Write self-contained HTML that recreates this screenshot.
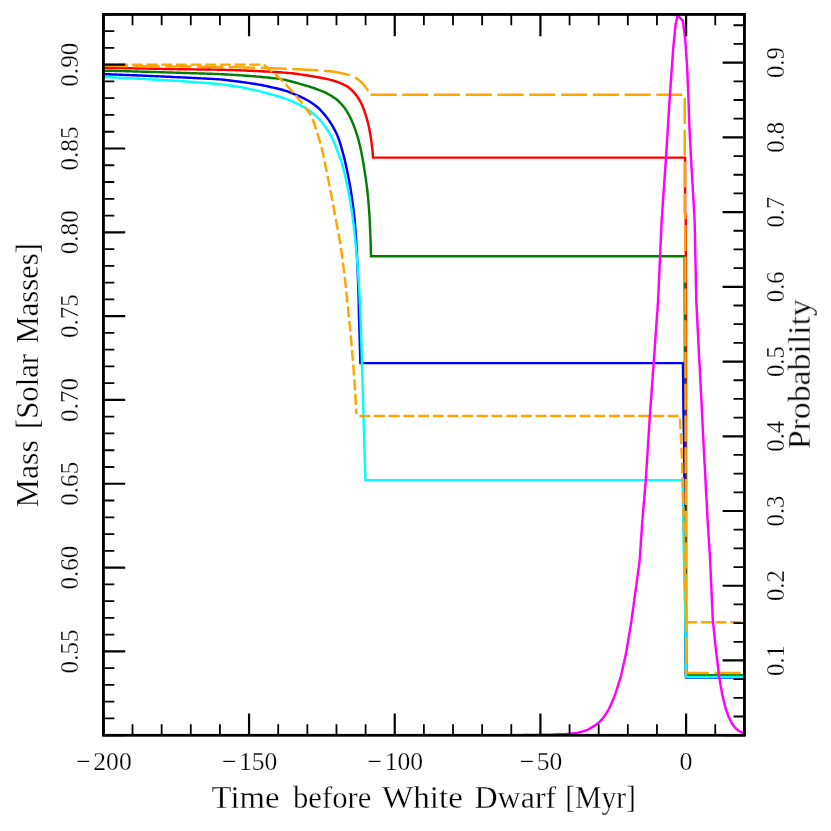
<!DOCTYPE html>
<html><head><meta charset="utf-8"><title>Mass vs Time</title>
<style>html,body{margin:0;padding:0;background:#fff;}svg{display:block;}text{font-family:"Liberation Serif",serif;fill:#000;}</style>
</head><body>
<svg width="831" height="831" viewBox="0 0 831 831">
<rect x="0" y="0" width="831" height="831" fill="#fff"/>
<defs><clipPath id="c"><rect x="103.40" y="14.40" width="641.00" height="720.80"/></clipPath></defs>
<g clip-path="url(#c)" fill="none" stroke-width="2.45" stroke-linejoin="miter" stroke-linecap="butt">
<path d="M103.80,67.80 L105.80,67.84 L107.81,67.88 L109.81,67.92 L111.81,67.95 L113.82,67.99 L115.82,68.03 L117.82,68.07 L119.83,68.11 L121.83,68.15 L123.83,68.19 L125.84,68.23 L127.84,68.26 L129.84,68.30 L131.85,68.34 L133.85,68.38 L135.85,68.42 L137.86,68.46 L139.86,68.50 L141.86,68.53 L143.87,68.57 L145.87,68.60 L147.87,68.64 L149.88,68.67 L151.88,68.71 L153.88,68.74 L155.89,68.78 L157.89,68.81 L159.89,68.85 L161.90,68.88 L163.90,68.92 L165.90,68.95 L167.91,68.99 L169.91,69.02 L171.91,69.06 L173.92,69.09 L175.92,69.13 L177.92,69.16 L179.93,69.19 L181.93,69.22 L183.93,69.25 L185.94,69.27 L187.94,69.30 L189.94,69.32 L191.95,69.35 L193.95,69.37 L195.95,69.40 L197.96,69.42 L199.96,69.45 L201.96,69.47 L203.97,69.50 L205.97,69.52 L207.97,69.55 L209.98,69.57 L211.98,69.60 L213.98,69.63 L215.99,69.65 L217.99,69.68 L219.99,69.72 L222.00,69.77 L224.00,69.82 L226.00,69.88 L228.01,69.94 L230.01,70.00 L232.01,70.06 L234.01,70.12 L236.02,70.18 L238.02,70.25 L240.02,70.32 L242.02,70.40 L244.03,70.48 L246.03,70.57 L248.03,70.66 L250.03,70.75 L252.03,70.84 L254.03,70.93 L256.04,71.02 L258.04,71.12 L260.04,71.21 L262.04,71.32 L264.04,71.42 L266.04,71.53 L268.04,71.64 L270.04,71.75 L272.04,71.86 L274.04,71.97 L276.04,72.08 L278.04,72.20 L280.04,72.32 L282.04,72.46 L284.04,72.60 L286.04,72.75 L288.04,72.92 L290.03,73.11 L292.02,73.32 L294.01,73.56 L296.00,73.81 L297.98,74.07 L299.97,74.34 L301.95,74.63 L303.93,74.93 L305.91,75.24 L307.89,75.55 L309.87,75.87 L311.85,76.19 L313.82,76.52 L315.80,76.86 L317.77,77.21 L319.74,77.57 L321.71,77.94 L323.68,78.33 L325.64,78.74 L327.59,79.18 L329.54,79.65 L331.47,80.17 L333.40,80.71 L335.31,81.28 L337.21,81.92 L339.08,82.62 L340.92,83.39 L342.75,84.21 L344.55,85.07 L346.31,86.01 L348.00,87.05 L349.61,88.22 L351.13,89.50 L352.57,90.88 L353.92,92.34 L355.20,93.87 L356.42,95.46 L357.58,97.09 L358.67,98.76 L359.70,100.48 L360.66,102.23 L361.55,104.02 L362.39,105.83 L363.16,107.68 L363.87,109.55 L364.54,111.43 L365.18,113.33 L365.79,115.24 L366.37,117.16 L366.93,119.08 L367.47,121.01 L367.97,122.95 L368.43,124.90 L368.85,126.85 L369.26,128.82 L369.65,130.78 L370.02,132.75 L370.36,134.72 L370.67,136.70 L370.98,138.68 L371.27,140.66 L371.54,142.65 L371.79,144.64 L372.02,146.63 L372.25,148.62 L372.45,150.61 L372.63,152.61 L372.79,154.60 L372.93,156.60 L373.00,157.60 L685.10,157.60 L685.10,212.00 L685.70,217.00 L686.00,300.00 L686.20,675.40 L744.50,675.40" stroke="#ff0000"/>
<path d="M103.80,70.60 L105.80,70.66 L107.80,70.71 L109.80,70.77 L111.80,70.82 L113.80,70.88 L115.80,70.93 L117.80,70.99 L119.80,71.04 L121.80,71.10 L123.80,71.15 L125.80,71.21 L127.80,71.26 L129.80,71.32 L131.80,71.37 L133.80,71.43 L135.80,71.48 L137.80,71.54 L139.80,71.60 L141.80,71.66 L143.80,71.71 L145.80,71.77 L147.80,71.83 L149.80,71.89 L151.80,71.95 L153.80,72.01 L155.80,72.07 L157.80,72.13 L159.80,72.19 L161.80,72.25 L163.80,72.31 L165.80,72.37 L167.80,72.43 L169.80,72.49 L171.80,72.55 L173.80,72.61 L175.80,72.67 L177.80,72.74 L179.80,72.80 L181.80,72.86 L183.80,72.92 L185.80,72.99 L187.80,73.05 L189.80,73.12 L191.80,73.18 L193.80,73.25 L195.80,73.31 L197.80,73.38 L199.80,73.44 L201.80,73.51 L203.80,73.57 L205.80,73.64 L207.80,73.70 L209.80,73.77 L211.80,73.83 L213.80,73.90 L215.80,73.97 L217.80,74.04 L219.80,74.12 L221.80,74.21 L223.80,74.31 L225.80,74.42 L227.79,74.53 L229.79,74.64 L231.79,74.75 L233.79,74.86 L235.79,74.97 L237.78,75.09 L239.78,75.22 L241.78,75.35 L243.77,75.51 L245.77,75.66 L247.76,75.82 L249.76,75.98 L251.75,76.14 L253.74,76.30 L255.74,76.46 L257.73,76.63 L259.73,76.80 L261.72,76.98 L263.71,77.17 L265.70,77.37 L267.69,77.57 L269.68,77.77 L271.67,77.97 L273.67,78.17 L275.65,78.38 L277.64,78.61 L279.62,78.89 L281.59,79.23 L283.54,79.63 L285.50,80.07 L287.44,80.52 L289.39,81.00 L291.33,81.49 L293.26,82.00 L295.19,82.52 L297.12,83.05 L299.05,83.59 L300.97,84.14 L302.89,84.71 L304.81,85.28 L306.72,85.86 L308.64,86.45 L310.55,87.04 L312.45,87.65 L314.35,88.27 L316.25,88.91 L318.13,89.59 L319.99,90.31 L321.84,91.08 L323.67,91.88 L325.49,92.71 L327.28,93.58 L329.04,94.53 L330.76,95.54 L332.46,96.60 L334.13,97.69 L335.76,98.83 L337.32,100.06 L338.79,101.39 L340.19,102.81 L341.54,104.28 L342.85,105.78 L344.11,107.33 L345.29,108.94 L346.40,110.60 L347.46,112.29 L348.46,114.02 L349.41,115.77 L350.30,117.56 L351.15,119.37 L351.97,121.20 L352.75,123.04 L353.49,124.90 L354.20,126.76 L354.89,128.64 L355.56,130.52 L356.21,132.42 L356.82,134.32 L357.42,136.23 L357.98,138.15 L358.52,140.08 L359.02,142.01 L359.51,143.95 L359.98,145.90 L360.44,147.85 L360.87,149.80 L361.28,151.76 L361.66,153.72 L362.03,155.69 L362.39,157.65 L362.74,159.62 L363.08,161.60 L363.42,163.57 L363.74,165.54 L364.07,167.52 L364.39,169.49 L364.71,171.47 L365.02,173.44 L365.32,175.42 L365.61,177.40 L365.89,179.38 L366.16,181.37 L366.43,183.35 L366.70,185.33 L366.96,187.31 L367.20,189.30 L367.42,191.29 L367.62,193.28 L367.82,195.27 L368.01,197.26 L368.20,199.25 L368.39,201.25 L368.56,203.24 L368.72,205.23 L368.87,207.23 L369.01,209.23 L369.15,211.22 L369.29,213.22 L369.42,215.21 L369.54,217.21 L369.65,219.21 L369.74,221.21 L369.83,223.21 L369.91,225.21 L369.99,227.21 L370.08,229.20 L370.17,231.20 L370.26,233.20 L370.35,235.20 L370.45,237.20 L370.54,239.20 L370.61,241.20 L370.67,243.20 L370.73,245.20 L370.78,247.20 L370.83,249.20 L370.88,251.20 L370.93,253.20 L370.98,255.20 L371.00,256.20 L684.60,256.20 L685.00,400.00 L686.00,675.20 L744.50,675.20" stroke="#008000"/>
<path d="M103.80,74.10 L105.80,74.18 L107.80,74.25 L109.80,74.33 L111.81,74.41 L113.81,74.49 L115.81,74.56 L117.81,74.64 L119.81,74.72 L121.81,74.80 L123.81,74.87 L125.82,74.95 L127.82,75.03 L129.82,75.11 L131.82,75.18 L133.82,75.26 L135.82,75.34 L137.82,75.42 L139.83,75.50 L141.83,75.59 L143.83,75.67 L145.83,75.76 L147.83,75.85 L149.83,75.94 L151.83,76.03 L153.83,76.12 L155.83,76.21 L157.83,76.30 L159.84,76.39 L161.84,76.48 L163.84,76.57 L165.84,76.66 L167.84,76.75 L169.84,76.84 L171.84,76.93 L173.84,77.02 L175.84,77.11 L177.84,77.21 L179.84,77.30 L181.85,77.39 L183.85,77.49 L185.85,77.59 L187.85,77.69 L189.85,77.79 L191.85,77.89 L193.85,77.99 L195.85,78.09 L197.85,78.19 L199.85,78.29 L201.85,78.39 L203.85,78.49 L205.85,78.59 L207.85,78.69 L209.85,78.79 L211.85,78.89 L213.85,78.99 L215.85,79.10 L217.85,79.22 L219.85,79.37 L221.84,79.56 L223.83,79.77 L225.82,80.00 L227.81,80.24 L229.80,80.48 L231.79,80.71 L233.78,80.95 L235.76,81.19 L237.75,81.44 L239.74,81.70 L241.72,81.97 L243.70,82.26 L245.68,82.55 L247.67,82.85 L249.65,83.15 L251.63,83.44 L253.61,83.74 L255.59,84.04 L257.57,84.36 L259.54,84.70 L261.50,85.07 L263.47,85.47 L265.42,85.90 L267.38,86.32 L269.34,86.75 L271.29,87.18 L273.25,87.62 L275.20,88.05 L277.16,88.50 L279.10,88.96 L281.04,89.47 L282.96,90.02 L284.88,90.59 L286.79,91.18 L288.69,91.82 L290.57,92.50 L292.43,93.24 L294.28,94.01 L296.12,94.80 L297.95,95.61 L299.77,96.44 L301.58,97.30 L303.38,98.18 L305.17,99.07 L306.94,100.01 L308.67,100.99 L310.37,102.05 L312.02,103.17 L313.65,104.33 L315.27,105.51 L316.85,106.73 L318.37,108.02 L319.81,109.39 L321.20,110.83 L322.54,112.31 L323.86,113.82 L325.13,115.36 L326.37,116.93 L327.57,118.53 L328.74,120.16 L329.88,121.80 L330.96,123.48 L332.00,125.19 L333.01,126.92 L333.98,128.67 L334.93,130.44 L335.84,132.22 L336.70,134.02 L337.50,135.85 L338.24,137.71 L338.93,139.59 L339.58,141.48 L340.19,143.39 L340.77,145.31 L341.32,147.23 L341.86,149.16 L342.40,151.09 L342.94,153.02 L343.46,154.95 L343.97,156.89 L344.46,158.83 L344.93,160.78 L345.37,162.73 L345.81,164.68 L346.23,166.64 L346.65,168.60 L347.07,170.56 L347.48,172.52 L347.88,174.48 L348.27,176.45 L348.64,178.41 L349.01,180.38 L349.38,182.35 L349.74,184.32 L350.10,186.29 L350.45,188.26 L350.77,190.24 L351.08,192.22 L351.37,194.20 L351.66,196.18 L351.95,198.16 L352.24,200.15 L352.51,202.13 L352.78,204.11 L353.04,206.10 L353.30,208.09 L353.55,210.07 L353.79,212.06 L354.04,214.05 L354.27,216.04 L354.47,218.03 L354.66,220.02 L354.82,222.02 L354.98,224.02 L355.13,226.01 L355.28,228.01 L355.43,230.01 L355.57,232.01 L355.71,234.01 L355.84,236.00 L355.97,238.00 L356.09,240.00 L356.21,242.00 L356.33,244.00 L356.44,246.00 L356.56,248.00 L356.67,250.00 L356.79,252.00 L356.90,254.00 L357.01,256.00 L357.12,258.00 L357.22,260.00 L357.31,262.00 L357.40,264.00 L357.48,266.00 L357.56,268.00 L357.65,270.00 L357.73,272.01 L357.81,274.01 L357.89,276.01 L357.97,278.01 L358.04,280.01 L358.11,282.01 L358.17,284.02 L358.23,286.02 L358.30,288.02 L358.36,290.02 L358.42,292.02 L358.48,294.03 L358.54,296.03 L358.60,298.03 L358.65,300.03 L358.70,302.03 L358.74,304.04 L358.79,306.04 L358.83,308.04 L358.88,310.04 L358.92,312.05 L358.97,314.05 L359.01,316.05 L359.06,318.05 L359.11,320.06 L359.17,322.06 L359.22,324.06 L359.28,326.06 L359.34,328.06 L359.40,330.07 L359.46,332.07 L359.52,334.07 L359.58,336.07 L359.65,338.07 L359.71,340.08 L359.77,342.08 L359.83,344.08 L359.89,346.08 L359.95,348.08 L360.01,350.09 L360.07,352.09 L360.13,354.09 L360.19,356.09 L360.25,358.09 L360.31,360.10 L360.37,362.10 L360.40,363.10 L683.00,363.10 L683.50,415.00 L684.10,445.00 L684.60,520.00 L685.50,640.00 L686.00,677.40 L744.50,677.40" stroke="#0000ff"/>
<path d="M103.80,76.90 L105.80,77.00 L107.80,77.11 L109.80,77.21 L111.80,77.32 L113.80,77.42 L115.80,77.53 L117.80,77.63 L119.80,77.74 L121.80,77.84 L123.80,77.95 L125.80,78.05 L127.80,78.16 L129.81,78.26 L131.81,78.37 L133.81,78.47 L135.81,78.58 L137.81,78.69 L139.81,78.79 L141.81,78.90 L143.81,79.01 L145.81,79.12 L147.81,79.23 L149.81,79.34 L151.81,79.45 L153.81,79.56 L155.81,79.67 L157.81,79.78 L159.81,79.89 L161.81,80.00 L163.81,80.11 L165.81,80.22 L167.81,80.33 L169.81,80.44 L171.81,80.55 L173.81,80.66 L175.81,80.77 L177.81,80.89 L179.81,81.01 L181.81,81.15 L183.80,81.30 L185.80,81.45 L187.80,81.60 L189.80,81.76 L191.79,81.91 L193.79,82.07 L195.79,82.22 L197.79,82.38 L199.78,82.53 L201.78,82.69 L203.78,82.84 L205.77,83.00 L207.77,83.15 L209.77,83.31 L211.77,83.46 L213.76,83.62 L215.76,83.78 L217.75,83.95 L219.75,84.15 L221.74,84.38 L223.72,84.63 L225.71,84.90 L227.69,85.18 L229.67,85.45 L231.66,85.73 L233.64,86.01 L235.63,86.29 L237.61,86.59 L239.58,86.92 L241.55,87.29 L243.51,87.69 L245.47,88.11 L247.43,88.53 L249.38,88.96 L251.34,89.39 L253.29,89.83 L255.25,90.26 L257.20,90.70 L259.15,91.16 L261.10,91.64 L263.03,92.15 L264.97,92.67 L266.90,93.20 L268.83,93.73 L270.76,94.26 L272.69,94.79 L274.62,95.32 L276.55,95.87 L278.48,96.42 L280.39,97.01 L282.29,97.64 L284.18,98.29 L286.07,98.96 L287.95,99.66 L289.81,100.39 L291.66,101.16 L293.50,101.96 L295.32,102.78 L297.14,103.62 L298.94,104.50 L300.72,105.42 L302.47,106.37 L304.22,107.36 L305.94,108.37 L307.64,109.42 L309.29,110.54 L310.88,111.74 L312.44,113.00 L313.98,114.28 L315.50,115.58 L317.00,116.90 L318.45,118.28 L319.82,119.72 L321.13,121.23 L322.39,122.78 L323.62,124.36 L324.80,125.97 L325.93,127.62 L327.01,129.30 L328.07,131.00 L329.10,132.72 L330.10,134.46 L331.05,136.21 L331.97,137.99 L332.85,139.79 L333.69,141.61 L334.47,143.45 L335.22,145.31 L335.93,147.18 L336.64,149.05 L337.34,150.92 L338.06,152.80 L338.78,154.66 L339.51,156.53 L340.23,158.40 L340.91,160.28 L341.54,162.18 L342.12,164.09 L342.66,166.02 L343.19,167.95 L343.70,169.89 L344.19,171.83 L344.65,173.78 L345.09,175.73 L345.51,177.69 L345.93,179.65 L346.35,181.61 L346.76,183.57 L347.18,185.53 L347.58,187.49 L347.98,189.45 L348.36,191.42 L348.74,193.39 L349.11,195.35 L349.48,197.32 L349.84,199.29 L350.20,201.26 L350.54,203.24 L350.86,205.21 L351.16,207.19 L351.46,209.18 L351.75,211.16 L352.03,213.14 L352.32,215.12 L352.59,217.11 L352.86,219.09 L353.12,221.08 L353.37,223.07 L353.61,225.05 L353.86,227.04 L354.10,229.03 L354.33,231.02 L354.54,233.01 L354.74,235.01 L354.93,237.00 L355.12,238.99 L355.30,240.99 L355.50,242.98 L355.69,244.98 L355.89,246.97 L356.09,248.96 L356.28,250.96 L356.48,252.95 L356.68,254.94 L356.87,256.94 L357.05,258.93 L357.21,260.93 L357.37,262.93 L357.51,264.92 L357.66,266.92 L357.80,268.92 L357.95,270.92 L358.09,272.91 L358.24,274.91 L358.38,276.91 L358.52,278.91 L358.65,280.91 L358.77,282.91 L358.90,284.91 L359.03,286.91 L359.15,288.91 L359.28,290.90 L359.40,292.90 L359.52,294.90 L359.63,296.90 L359.73,298.90 L359.82,300.90 L359.91,302.91 L359.99,304.91 L360.07,306.91 L360.15,308.91 L360.23,310.91 L360.31,312.91 L360.39,314.92 L360.47,316.92 L360.55,318.92 L360.62,320.92 L360.69,322.92 L360.76,324.92 L360.82,326.93 L360.89,328.93 L360.96,330.93 L361.02,332.93 L361.09,334.93 L361.15,336.94 L361.22,338.94 L361.28,340.94 L361.35,342.94 L361.41,344.95 L361.48,346.95 L361.54,348.95 L361.61,350.95 L361.67,352.95 L361.74,354.96 L361.80,356.96 L361.87,358.96 L361.93,360.96 L361.99,362.96 L362.05,364.97 L362.11,366.97 L362.16,368.97 L362.22,370.97 L362.28,372.98 L362.33,374.98 L362.39,376.98 L362.45,378.98 L362.50,380.99 L362.56,382.99 L362.62,384.99 L362.67,386.99 L362.73,389.00 L362.78,391.00 L362.84,393.00 L362.90,395.00 L362.95,397.00 L363.01,399.01 L363.07,401.01 L363.12,403.01 L363.18,405.01 L363.23,407.02 L363.29,409.02 L363.35,411.02 L363.40,413.02 L363.46,415.03 L363.52,417.03 L363.57,419.03 L363.63,421.03 L363.69,423.04 L363.75,425.04 L363.81,427.04 L363.87,429.04 L363.93,431.04 L363.99,433.05 L364.05,435.05 L364.11,437.05 L364.17,439.05 L364.23,441.06 L364.29,443.06 L364.35,445.06 L364.41,447.06 L364.47,449.06 L364.53,451.07 L364.59,453.07 L364.65,455.07 L364.71,457.07 L364.77,459.08 L364.83,461.08 L364.89,463.08 L364.95,465.08 L365.01,467.09 L365.07,469.09 L365.13,471.09 L365.19,473.09 L365.25,475.09 L365.31,477.10 L365.37,479.10 L365.40,480.10 L682.60,480.10 L683.60,540.00 L685.30,620.00 L686.10,677.00 L744.50,677.00" stroke="#00ffff"/>
<path d="M103.8,64.6 L263.80,64.60 L265.28,65.95 L266.76,67.30 L268.25,68.64 L269.77,69.94 L271.30,71.23 L272.85,72.50 L274.41,73.76 L275.96,75.03 L277.50,76.31 L279.01,77.62 L280.48,78.98 L281.90,80.38 L283.29,81.83 L284.66,83.28 L286.03,84.74 L287.40,86.20 L288.77,87.67 L290.14,89.13 L291.50,90.60 L292.85,92.08 L294.18,93.57 L295.49,95.09 L296.78,96.63 L298.05,98.17 L299.30,99.73 L300.54,101.31 L301.75,102.90 L302.96,104.50 L304.17,106.10 L305.37,107.70 L306.58,109.30 L307.77,110.91 L308.94,112.53 L310.04,114.19 L311.04,115.91 L311.93,117.69 L312.74,119.52 L313.47,121.38 L314.14,123.26 L314.76,125.16 L315.35,127.08 L315.94,128.99 L316.54,130.90 L317.15,132.81 L317.77,134.71 L318.39,136.62 L318.98,138.53 L319.55,140.45 L320.08,142.38 L320.60,144.32 L321.12,146.25 L321.63,148.19 L322.13,150.13 L322.60,152.08 L323.05,154.03 L323.48,155.98 L323.88,157.95 L324.29,159.91 L324.70,161.87 L325.11,163.83 L325.51,165.79 L325.92,167.75 L326.33,169.72 L326.72,171.68 L327.11,173.64 L327.50,175.61 L327.88,177.58 L328.27,179.54 L328.65,181.51 L329.04,183.47 L329.43,185.44 L329.82,187.40 L330.20,189.37 L330.59,191.34 L330.98,193.30 L331.36,195.27 L331.74,197.23 L332.11,199.20 L332.47,201.17 L332.82,203.15 L333.17,205.12 L333.52,207.09 L333.87,209.06 L334.22,211.04 L334.57,213.01 L334.92,214.98 L335.29,216.95 L335.66,218.92 L336.04,220.89 L336.43,222.85 L336.82,224.82 L337.22,226.78 L337.61,228.74 L337.99,230.71 L338.37,232.68 L338.73,234.65 L339.09,236.62 L339.43,238.59 L339.75,240.57 L340.06,242.55 L340.36,244.53 L340.65,246.51 L340.94,248.49 L341.23,250.48 L341.52,252.46 L341.81,254.44 L342.08,256.43 L342.35,258.41 L342.62,260.40 L342.88,262.38 L343.13,264.37 L343.39,266.36 L343.65,268.34 L343.90,270.33 L344.15,272.32 L344.39,274.31 L344.62,276.30 L344.86,278.29 L345.09,280.28 L345.32,282.27 L345.55,284.26 L345.78,286.25 L345.99,288.24 L346.20,290.23 L346.40,292.22 L346.60,294.22 L346.80,296.21 L346.99,298.21 L347.19,300.20 L347.39,302.19 L347.58,304.19 L347.78,306.18 L347.98,308.17 L348.19,310.17 L348.39,312.16 L348.60,314.15 L348.80,316.14 L349.01,318.14 L349.22,320.13 L349.44,322.12 L349.65,324.11 L349.87,326.10 L350.08,328.10 L350.28,330.09 L350.47,332.08 L350.64,334.08 L350.81,336.08 L350.98,338.07 L351.15,340.07 L351.32,342.06 L351.49,344.06 L351.66,346.06 L351.83,348.05 L352.00,350.05 L352.16,352.05 L352.33,354.04 L352.50,356.04 L352.67,358.03 L352.84,360.03 L353.00,362.03 L353.16,364.02 L353.32,366.02 L353.48,368.02 L353.63,370.02 L353.78,372.01 L353.94,374.01 L354.09,376.01 L354.24,378.01 L354.39,380.00 L354.55,382.00 L354.69,384.00 L354.83,386.00 L354.96,388.00 L355.08,390.00 L355.19,392.00 L355.30,394.00 L355.41,396.00 L355.52,398.00 L355.63,400.00 L355.74,402.00 L355.85,404.00 L355.96,406.00 L356.07,408.00 L356.18,410.00 L356.29,412.00 L356.40,414.00" stroke="#ffa500" stroke-dasharray="10.9 3.78" stroke-dashoffset="1.3"/>
<path d="M359.4,416.0 L679.9,416.0 L681.9,457.8 L683.3,501.0 L684.6,560.0 L686.2,622.2" stroke="#ffa500" stroke-dasharray="10.9 3.78"/>
<path d="M686.3,622.2 L744.5,622.2" stroke="#ffa500" stroke-dasharray="10.9 3.78"/>
<path d="M103.80,65.80 L105.80,65.82 L107.80,65.83 L109.80,65.85 L111.81,65.86 L113.81,65.88 L115.81,65.89 L117.81,65.91 L119.81,65.93 L121.81,65.94 L123.82,65.96 L125.82,65.97 L127.82,65.99 L129.82,66.00 L131.82,66.02 L133.82,66.04 L135.83,66.05 L137.83,66.07 L139.83,66.08 L141.83,66.10 L143.83,66.12 L145.83,66.13 L147.84,66.15 L149.84,66.16 L151.84,66.18 L153.84,66.19 L155.84,66.21 L157.84,66.23 L159.85,66.24 L161.85,66.26 L163.85,66.27 L165.85,66.29 L167.85,66.30 L169.85,66.32 L171.86,66.34 L173.86,66.35 L175.86,66.37 L177.86,66.39 L179.86,66.41 L181.86,66.43 L183.87,66.46 L185.87,66.49 L187.87,66.52 L189.87,66.55 L191.87,66.58 L193.87,66.61 L195.87,66.64 L197.88,66.67 L199.88,66.70 L201.88,66.73 L203.88,66.76 L205.88,66.79 L207.88,66.82 L209.88,66.85 L211.89,66.88 L213.89,66.91 L215.89,66.94 L217.89,66.97 L219.89,67.00 L221.89,67.04 L223.89,67.08 L225.90,67.12 L227.90,67.16 L229.90,67.20 L231.90,67.24 L233.90,67.28 L235.90,67.32 L237.90,67.36 L239.90,67.40 L241.91,67.44 L243.91,67.48 L245.91,67.52 L247.91,67.56 L249.91,67.60 L251.91,67.64 L253.91,67.68 L255.92,67.72 L257.92,67.76 L259.92,67.82 L261.92,67.87 L263.92,67.94 L265.92,68.01 L267.92,68.08 L269.92,68.15 L271.92,68.22 L273.92,68.29 L275.92,68.36 L277.92,68.43 L279.92,68.50 L281.92,68.58 L283.92,68.66 L285.92,68.75 L287.92,68.84 L289.92,68.93 L291.92,69.02 L293.92,69.13 L295.92,69.23 L297.92,69.33 L299.92,69.42 L301.92,69.51 L303.92,69.59 L305.92,69.68 L307.92,69.77 L309.92,69.86 L311.92,69.96 L313.91,70.06 L315.91,70.18 L317.91,70.30 L319.91,70.44 L321.90,70.59 L323.90,70.76 L325.89,70.93 L327.88,71.13 L329.87,71.34 L331.86,71.58 L333.85,71.83 L335.83,72.11 L337.80,72.43 L339.77,72.79 L341.73,73.19 L343.68,73.62 L345.62,74.09 L347.55,74.63 L349.45,75.24 L351.32,75.93 L353.16,76.69 L354.95,77.56 L356.66,78.55 L358.30,79.67 L359.85,80.92 L361.31,82.27 L362.69,83.70 L364.00,85.21 L365.25,86.76 L366.46,88.36 L367.62,89.98 L368.20,90.80" stroke="#ffa500" stroke-dasharray="26.1 5.65" stroke-dashoffset="1.9"/>
<path d="M370.5,94.7 L684.7,94.7 L684.7,212.0 L685.3,217.0 L685.5,400.0 L686.2,672.9 L744.5,672.9" stroke="#ffa500" stroke-dasharray="26.1 5.65"/>
</g>
<g clip-path="url(#c)"><path d="M500.0,735.2 L502.0,735.2 L504.0,735.2 L506.0,735.2 L508.0,735.1 L510.0,735.1 L512.0,735.1 L514.0,735.1 L516.0,735.1 L518.0,735.1 L520.0,735.1 L522.0,735.1 L524.0,735.0 L526.0,735.0 L528.0,735.0 L530.0,735.0 L532.0,735.0 L534.0,734.9 L536.0,734.9 L538.0,734.9 L540.0,734.8 L542.0,734.8 L544.0,734.8 L546.0,734.7 L548.0,734.7 L550.0,734.6 L552.0,734.6 L554.0,734.5 L556.0,734.4 L558.0,734.3 L560.0,734.3 L562.0,734.2 L564.0,734.1 L566.0,734.0 L568.0,733.9 L570.0,733.7 L572.0,733.5 L574.0,733.3 L575.9,733.0 L577.9,732.7 L579.9,732.2 L581.8,731.7 L583.7,731.1 L585.6,730.5 L587.4,729.8 L589.2,728.9 L591.0,727.9 L592.7,726.9 L594.4,725.9 L596.0,724.7 L597.6,723.5 L599.1,722.2 L600.6,720.8 L601.9,719.4 L603.2,717.8 L604.3,716.2 L605.5,714.5 L606.6,712.9 L607.6,711.2 L608.6,709.5 L609.5,707.7 L610.4,705.9 L611.2,704.0 L611.9,702.2 L612.7,700.4 L613.5,698.5 L614.3,696.7 L615.0,694.8 L615.7,692.9 L616.3,691.0 L616.9,689.1 L617.5,687.2 L618.1,685.3 L618.7,683.4 L619.3,681.5 L619.9,679.6 L620.5,677.7 L621.0,675.7 L621.4,673.8 L621.9,671.8 L622.3,669.9 L622.7,667.9 L623.2,666.0 L623.6,664.0 L624.1,662.1 L624.5,660.1 L625.0,658.2 L625.4,656.2 L625.8,654.3 L626.2,652.3 L626.6,650.3 L626.9,648.4 L627.2,646.4 L627.5,644.4 L627.9,642.4 L628.2,640.5 L628.5,638.5 L628.9,636.5 L629.2,634.6 L629.5,632.6 L629.8,630.6 L630.2,628.6 L630.5,626.7 L630.8,624.7 L631.1,622.7 L631.5,620.7 L631.7,618.8 L632.0,616.8 L632.3,614.8 L632.6,612.8 L632.8,610.8 L633.1,608.8 L633.4,606.9 L633.6,604.9 L633.9,602.9 L634.2,600.9 L634.4,598.9 L634.7,597.0 L635.0,595.0 L635.2,593.0 L635.5,591.0 L635.8,589.0 L636.1,587.0 L636.3,585.1 L636.6,583.1 L636.9,581.1 L637.1,579.1 L637.4,577.1 L637.7,575.1 L637.9,573.2 L638.2,571.2 L638.5,569.2 L638.8,567.2 L639.0,565.2 L639.3,563.3 L639.5,561.3 L639.7,559.3 L639.9,557.3 L640.0,555.3 L640.1,553.3 L640.3,551.3 L640.4,549.3 L640.5,547.3 L640.7,545.3 L640.8,543.3 L640.9,541.3 L641.1,539.3 L641.2,537.3 L641.4,535.3 L641.5,533.3 L641.6,531.3 L641.8,529.3 L641.9,527.3 L642.0,525.3 L642.2,523.4 L642.3,521.4 L642.5,519.4 L642.6,517.4 L642.8,515.4 L643.0,513.4 L643.1,511.4 L643.3,509.4 L643.5,507.4 L643.6,505.4 L643.8,503.4 L644.0,501.4 L644.2,499.4 L644.3,497.4 L644.5,495.4 L644.7,493.5 L644.8,491.5 L645.0,489.5 L645.2,487.5 L645.3,485.5 L645.5,483.5 L645.7,481.5 L645.8,479.5 L646.0,477.5 L646.1,475.5 L646.2,473.5 L646.3,471.5 L646.5,469.5 L646.6,467.5 L646.7,465.5 L646.8,463.5 L647.0,461.5 L647.1,459.5 L647.2,457.5 L647.4,455.5 L647.5,453.5 L647.6,451.5 L647.7,449.6 L647.9,447.6 L648.0,445.6 L648.1,443.6 L648.2,441.6 L648.4,439.6 L648.5,437.6 L648.6,435.6 L648.7,433.6 L648.9,431.6 L649.0,429.6 L649.1,427.6 L649.2,425.6 L649.4,423.6 L649.5,421.6 L649.6,419.6 L649.8,417.6 L649.9,415.6 L650.1,413.6 L650.2,411.6 L650.3,409.6 L650.5,407.6 L650.6,405.6 L650.8,403.6 L650.9,401.6 L651.1,399.7 L651.2,397.7 L651.4,395.7 L651.5,393.7 L651.6,391.7 L651.8,389.7 L651.9,387.7 L652.1,385.7 L652.2,383.7 L652.4,381.7 L652.5,379.7 L652.6,377.7 L652.8,375.7 L652.9,373.7 L653.1,371.7 L653.2,369.7 L653.4,367.7 L653.5,365.7 L653.7,363.7 L653.8,361.7 L653.9,359.7 L654.1,357.7 L654.2,355.8 L654.4,353.8 L654.5,351.8 L654.6,349.8 L654.8,347.8 L654.9,345.8 L655.0,343.8 L655.2,341.8 L655.3,339.8 L655.5,337.8 L655.6,335.8 L655.7,333.8 L655.9,331.8 L656.0,329.8 L656.2,327.8 L656.3,325.8 L656.4,323.8 L656.6,321.8 L656.7,319.8 L656.9,317.8 L657.0,315.8 L657.1,313.8 L657.3,311.9 L657.4,309.9 L657.6,307.9 L657.7,305.9 L657.8,303.9 L658.0,301.9 L658.1,299.9 L658.2,297.9 L658.3,295.9 L658.4,293.9 L658.5,291.9 L658.6,289.9 L658.6,287.9 L658.7,285.9 L658.8,283.9 L658.9,281.9 L659.0,279.9 L659.1,277.9 L659.2,275.9 L659.3,273.9 L659.4,271.9 L659.5,269.9 L659.5,267.9 L659.6,265.9 L659.7,263.9 L659.8,261.9 L659.9,259.9 L660.0,257.9 L660.1,255.9 L660.2,253.9 L660.3,251.9 L660.4,249.9 L660.4,247.9 L660.5,245.9 L660.6,243.9 L660.7,241.9 L660.8,239.9 L660.9,237.9 L661.0,235.9 L661.1,233.9 L661.2,231.9 L661.3,229.9 L661.3,227.9 L661.4,225.9 L661.5,223.9 L661.6,221.9 L661.7,219.9 L661.8,217.9 L662.0,215.9 L662.1,214.0 L662.3,212.0 L662.4,210.0 L662.5,208.0 L662.7,206.0 L662.8,204.0 L662.9,202.0 L663.1,200.0 L663.2,198.0 L663.4,196.0 L663.5,194.0 L663.6,192.0 L663.8,190.0 L663.9,188.0 L664.0,186.0 L664.2,184.0 L664.3,182.0 L664.5,180.0 L664.6,178.0 L664.7,176.0 L664.9,174.0 L665.0,172.0 L665.2,170.0 L665.3,168.1 L665.4,166.1 L665.6,164.1 L665.7,162.1 L665.8,160.1 L666.0,158.1 L666.1,156.1 L666.2,154.1 L666.4,152.1 L666.5,150.1 L666.6,148.1 L666.7,146.1 L666.9,144.1 L667.0,142.1 L667.1,140.1 L667.2,138.1 L667.4,136.1 L667.5,134.1 L667.6,132.1 L667.7,130.1 L667.8,128.1 L668.0,126.1 L668.1,124.1 L668.2,122.1 L668.3,120.1 L668.5,118.1 L668.6,116.1 L668.7,114.1 L668.8,112.2 L669.0,110.2 L669.1,108.2 L669.2,106.2 L669.3,104.2 L669.5,102.2 L669.6,100.2 L669.7,98.2 L669.9,96.2 L670.0,94.2 L670.1,92.2 L670.3,90.2 L670.4,88.2 L670.6,86.2 L670.7,84.2 L670.8,82.2 L671.0,80.2 L671.1,78.2 L671.3,76.2 L671.4,74.2 L671.5,72.2 L671.7,70.2 L671.8,68.2 L672.0,66.2 L672.1,64.3 L672.2,62.3 L672.4,60.3 L672.5,58.3 L672.7,56.3 L672.8,54.3 L672.9,52.3 L673.1,50.3 L673.2,48.3 L673.4,46.3 L673.6,44.3 L673.8,42.3 L674.0,40.3 L674.2,38.3 L674.4,36.3 L674.6,34.4 L674.8,32.4 L675.0,30.4 L675.2,28.4 L675.4,26.4 L675.6,24.4 L675.6,24.4 L677.6,15.6 L682.8,20.6 L685.2,38.9 L685.3,40.9 L685.5,42.9 L685.6,44.9 L685.8,46.9 L685.9,48.9 L686.0,50.9 L686.2,52.9 L686.3,54.9 L686.4,56.9 L686.6,58.9 L686.7,60.8 L686.9,62.8 L687.0,64.8 L687.1,66.8 L687.2,68.8 L687.3,70.8 L687.4,72.8 L687.5,74.8 L687.6,76.8 L687.6,78.8 L687.7,80.8 L687.8,82.8 L687.9,84.8 L688.0,86.8 L688.1,88.8 L688.1,90.8 L688.2,92.8 L688.3,94.8 L688.4,96.8 L688.5,98.8 L688.5,100.8 L688.6,102.8 L688.7,104.8 L688.7,106.8 L688.8,108.8 L688.9,110.8 L688.9,112.8 L689.0,114.8 L689.1,116.8 L689.1,118.8 L689.2,120.8 L689.3,122.8 L689.3,124.8 L689.4,126.8 L689.5,128.8 L689.6,130.8 L689.7,132.8 L689.8,134.8 L689.9,136.8 L690.0,138.8 L690.1,140.8 L690.2,142.8 L690.3,144.8 L690.4,146.8 L690.5,148.8 L690.6,150.8 L690.7,152.8 L690.8,154.8 L690.9,156.8 L691.1,158.8 L691.2,160.8 L691.3,162.8 L691.4,164.8 L691.5,166.7 L691.6,168.7 L691.7,170.7 L691.9,172.7 L692.0,174.7 L692.1,176.7 L692.2,178.7 L692.3,180.7 L692.4,182.7 L692.6,184.7 L692.7,186.7 L692.8,188.7 L692.9,190.7 L693.0,192.7 L693.1,194.7 L693.3,196.7 L693.4,198.7 L693.5,200.7 L693.6,202.7 L693.7,204.7 L693.8,206.7 L693.9,208.7 L694.1,210.7 L694.2,212.7 L694.3,214.7 L694.4,216.7 L694.5,218.7 L694.6,220.7 L694.7,222.7 L694.7,224.7 L694.7,226.7 L694.8,228.7 L694.8,230.7 L694.9,232.7 L694.9,234.7 L695.0,236.7 L695.0,238.7 L695.0,240.7 L695.1,242.7 L695.1,244.7 L695.2,246.7 L695.2,248.7 L695.3,250.7 L695.3,252.7 L695.3,254.7 L695.4,256.7 L695.4,258.7 L695.5,260.7 L695.5,262.7 L695.5,264.7 L695.6,266.7 L695.6,268.7 L695.7,270.7 L695.7,272.7 L695.8,274.7 L695.8,276.7 L695.8,278.7 L695.9,280.7 L695.9,282.7 L696.0,284.7 L696.0,286.7 L696.1,288.7 L696.1,290.7 L696.1,292.7 L696.2,294.7 L696.2,296.7 L696.3,298.7 L696.3,300.7 L696.4,302.7 L696.5,304.6 L696.6,306.6 L696.7,308.6 L696.8,310.6 L696.9,312.6 L697.0,314.6 L697.1,316.6 L697.2,318.6 L697.3,320.6 L697.4,322.6 L697.5,324.6 L697.6,326.6 L697.7,328.6 L697.8,330.6 L697.9,332.6 L698.0,334.6 L698.1,336.6 L698.2,338.6 L698.3,340.6 L698.4,342.6 L698.5,344.6 L698.6,346.6 L698.7,348.6 L698.8,350.6 L698.9,352.6 L699.0,354.6 L699.1,356.6 L699.2,358.6 L699.3,360.6 L699.4,362.6 L699.5,364.6 L699.7,366.6 L699.8,368.6 L699.9,370.6 L700.0,372.6 L700.1,374.6 L700.2,376.6 L700.3,378.6 L700.4,380.6 L700.5,382.6 L700.6,384.6 L700.7,386.6 L700.8,388.6 L700.9,390.5 L701.0,392.5 L701.1,394.5 L701.2,396.5 L701.3,398.5 L701.4,400.5 L701.5,402.5 L701.6,404.5 L701.7,406.5 L701.8,408.5 L701.9,410.5 L702.0,412.5 L702.1,414.5 L702.2,416.5 L702.3,418.5 L702.4,420.5 L702.5,422.5 L702.6,424.5 L702.7,426.5 L702.8,428.5 L702.9,430.5 L703.0,432.5 L703.1,434.5 L703.2,436.5 L703.3,438.5 L703.4,440.5 L703.5,442.5 L703.6,444.5 L703.7,446.5 L703.8,448.5 L703.9,450.5 L704.0,452.5 L704.1,454.5 L704.2,456.5 L704.3,458.5 L704.4,460.5 L704.5,462.5 L704.7,464.5 L704.8,466.5 L704.9,468.5 L705.0,470.5 L705.1,472.5 L705.2,474.4 L705.3,476.4 L705.4,478.4 L705.5,480.4 L705.6,482.4 L705.7,484.4 L705.8,486.4 L705.9,488.4 L706.0,490.4 L706.1,492.4 L706.2,494.4 L706.3,496.4 L706.5,498.4 L706.6,500.4 L706.7,502.4 L706.8,504.4 L706.9,506.4 L707.0,508.4 L707.1,510.4 L707.2,512.4 L707.3,514.4 L707.4,516.4 L707.5,518.4 L707.6,520.4 L707.8,522.4 L707.9,524.4 L708.0,526.4 L708.1,528.4 L708.3,530.4 L708.4,532.4 L708.5,534.4 L708.6,536.4 L708.8,538.4 L708.9,540.4 L709.0,542.3 L709.1,544.3 L709.3,546.3 L709.4,548.3 L709.5,550.3 L709.7,552.3 L709.8,554.3 L709.9,556.3 L710.0,558.3 L710.1,560.3 L710.2,562.3 L710.3,564.3 L710.4,566.3 L710.5,568.3 L710.6,570.3 L710.7,572.3 L710.7,574.3 L710.8,576.3 L710.9,578.3 L711.0,580.3 L711.1,582.3 L711.2,584.3 L711.3,586.3 L711.4,588.3 L711.5,590.3 L711.6,592.3 L711.6,594.3 L711.7,596.3 L711.8,598.3 L711.9,600.3 L712.0,602.3 L712.1,604.3 L712.2,606.3 L712.3,608.3 L712.4,610.3 L712.5,612.3 L712.5,614.3 L712.6,616.3 L712.7,618.3 L712.9,620.3 L713.0,622.3 L713.2,624.2 L713.5,626.2 L713.7,628.2 L713.9,630.2 L714.1,632.2 L714.3,634.2 L714.5,636.2 L714.7,638.2 L714.9,640.2 L715.1,642.1 L715.3,644.1 L715.5,646.1 L715.8,648.1 L716.0,650.1 L716.2,652.1 L716.4,654.1 L716.7,656.1 L716.9,658.0 L717.2,660.0 L717.4,662.0 L717.6,664.0 L717.9,666.0 L718.1,668.0 L718.3,670.0 L718.6,671.9 L718.8,673.9 L719.1,675.9 L719.3,677.9 L719.7,679.9 L720.0,681.8 L720.4,683.8 L720.7,685.8 L721.1,687.7 L721.4,689.7 L721.8,691.7 L722.1,693.7 L722.5,695.6 L723.0,697.6 L723.4,699.5 L723.9,701.4 L724.4,703.4 L724.9,705.3 L725.4,707.3 L725.9,709.2 L726.6,711.1 L727.2,713.0 L727.9,714.8 L728.7,716.7 L729.5,718.5 L730.4,720.3 L731.3,722.1 L732.3,723.8 L733.4,725.5 L734.6,727.1 L736.0,728.5 L737.4,729.8 L739.1,731.0 L740.8,731.9 L742.6,732.7 L744.5,733.4 L744.5,733.4" fill="none" stroke="#ff00ff" stroke-width="2.45" stroke-linejoin="round"/></g>
<path d="M103.38,735.20 v-21.80 M103.38,14.40 v21.80 M249.06,735.20 v-21.80 M249.06,14.40 v21.80 M394.74,735.20 v-21.80 M394.74,14.40 v21.80 M540.42,735.20 v-21.80 M540.42,14.40 v21.80 M686.10,735.20 v-21.80 M686.10,14.40 v21.80 M103.40,735.20 h21.80 M103.40,651.38 h21.80 M103.40,567.57 h21.80 M103.40,483.75 h21.80 M103.40,399.94 h21.80 M103.40,316.13 h21.80 M103.40,232.31 h21.80 M103.40,148.50 h21.80 M103.40,64.68 h21.80" stroke="#000" stroke-width="2.20" fill="none"/>
<path d="M132.52,735.20 v-10.90 M132.52,14.40 v10.90 M161.65,735.20 v-10.90 M161.65,14.40 v10.90 M190.79,735.20 v-10.90 M190.79,14.40 v10.90 M219.92,735.20 v-10.90 M219.92,14.40 v10.90 M278.20,735.20 v-10.90 M278.20,14.40 v10.90 M307.33,735.20 v-10.90 M307.33,14.40 v10.90 M336.47,735.20 v-10.90 M336.47,14.40 v10.90 M365.60,735.20 v-10.90 M365.60,14.40 v10.90 M423.88,735.20 v-10.90 M423.88,14.40 v10.90 M453.01,735.20 v-10.90 M453.01,14.40 v10.90 M482.15,735.20 v-10.90 M482.15,14.40 v10.90 M511.28,735.20 v-10.90 M511.28,14.40 v10.90 M569.56,735.20 v-10.90 M569.56,14.40 v10.90 M598.69,735.20 v-10.90 M598.69,14.40 v10.90 M627.83,735.20 v-10.90 M627.83,14.40 v10.90 M656.96,735.20 v-10.90 M656.96,14.40 v10.90 M715.24,735.20 v-10.90 M715.24,14.40 v10.90 M744.37,735.20 v-10.90 M744.37,14.40 v10.90 M103.40,718.44 h10.90 M103.40,701.67 h10.90 M103.40,684.91 h10.90 M103.40,668.15 h10.90 M103.40,634.62 h10.90 M103.40,617.86 h10.90 M103.40,601.10 h10.90 M103.40,584.33 h10.90 M103.40,550.81 h10.90 M103.40,534.04 h10.90 M103.40,517.28 h10.90 M103.40,500.52 h10.90 M103.40,466.99 h10.90 M103.40,450.23 h10.90 M103.40,433.47 h10.90 M103.40,416.70 h10.90 M103.40,383.18 h10.90 M103.40,366.41 h10.90 M103.40,349.65 h10.90 M103.40,332.89 h10.90 M103.40,299.36 h10.90 M103.40,282.60 h10.90 M103.40,265.84 h10.90 M103.40,249.07 h10.90 M103.40,215.55 h10.90 M103.40,198.78 h10.90 M103.40,182.02 h10.90 M103.40,165.26 h10.90 M103.40,131.73 h10.90 M103.40,114.97 h10.90 M103.40,98.21 h10.90 M103.40,81.44 h10.90 M103.40,47.92 h10.90 M103.40,31.15 h10.90 M103.40,14.39 h10.90" stroke="#000" stroke-width="1.80" fill="none"/>
<rect x="103.40" y="14.40" width="641.00" height="720.80" fill="none" stroke="#000" stroke-width="2.50"/>
<path d="M744.40,735.20 h-21.80 M744.40,660.47 h-21.80 M744.40,585.74 h-21.80 M744.40,511.01 h-21.80 M744.40,436.28 h-21.80 M744.40,361.55 h-21.80 M744.40,286.82 h-21.80 M744.40,212.09 h-21.80 M744.40,137.36 h-21.80 M744.40,62.63 h-21.80" stroke="#000" stroke-width="2.20" fill="none"/>
<path d="M744.40,716.52 h-10.90 M744.40,697.84 h-10.90 M744.40,679.15 h-10.90 M744.40,641.79 h-10.90 M744.40,623.11 h-10.90 M744.40,604.42 h-10.90 M744.40,567.06 h-10.90 M744.40,548.38 h-10.90 M744.40,529.69 h-10.90 M744.40,492.33 h-10.90 M744.40,473.65 h-10.90 M744.40,454.96 h-10.90 M744.40,417.60 h-10.90 M744.40,398.92 h-10.90 M744.40,380.23 h-10.90 M744.40,342.87 h-10.90 M744.40,324.19 h-10.90 M744.40,305.50 h-10.90 M744.40,268.14 h-10.90 M744.40,249.46 h-10.90 M744.40,230.77 h-10.90 M744.40,193.41 h-10.90 M744.40,174.73 h-10.90 M744.40,156.04 h-10.90 M744.40,118.68 h-10.90 M744.40,100.00 h-10.90 M744.40,81.31 h-10.90 M744.40,43.95 h-10.90 M744.40,25.26 h-10.90" stroke="#000" stroke-width="1.80" fill="none"/>
<rect x="103.40" y="14.40" width="641.00" height="720.80" fill="none" stroke="#000" stroke-width="2.50"/>
<g font-size="26" opacity="0.999" stroke="#fff" stroke-width="0.25">
<text x="76.2" y="769.5" text-anchor="start">−</text>
<text x="93.3" y="769.5" text-anchor="start" textLength="38.4" lengthAdjust="spacingAndGlyphs">200</text>
<text x="221.9" y="769.5" text-anchor="start">−</text>
<text x="239.0" y="769.5" text-anchor="start" textLength="38.4" lengthAdjust="spacingAndGlyphs">150</text>
<text x="367.6" y="769.5" text-anchor="start">−</text>
<text x="384.7" y="769.5" text-anchor="start" textLength="38.4" lengthAdjust="spacingAndGlyphs">100</text>
<text x="519.7" y="769.5" text-anchor="start">−</text>
<text x="536.8" y="769.5" text-anchor="start" textLength="25.6" lengthAdjust="spacingAndGlyphs">50</text>
<text x="686.1" y="769.5" text-anchor="middle">0</text>
<text transform="translate(78,651.4) rotate(-90)" text-anchor="middle" textLength="44" lengthAdjust="spacingAndGlyphs">0.55</text>
<text transform="translate(78,567.6) rotate(-90)" text-anchor="middle" textLength="44" lengthAdjust="spacingAndGlyphs">0.60</text>
<text transform="translate(78,483.8) rotate(-90)" text-anchor="middle" textLength="44" lengthAdjust="spacingAndGlyphs">0.65</text>
<text transform="translate(78,399.9) rotate(-90)" text-anchor="middle" textLength="44" lengthAdjust="spacingAndGlyphs">0.70</text>
<text transform="translate(78,316.1) rotate(-90)" text-anchor="middle" textLength="44" lengthAdjust="spacingAndGlyphs">0.75</text>
<text transform="translate(78,232.3) rotate(-90)" text-anchor="middle" textLength="44" lengthAdjust="spacingAndGlyphs">0.80</text>
<text transform="translate(78,148.5) rotate(-90)" text-anchor="middle" textLength="44" lengthAdjust="spacingAndGlyphs">0.85</text>
<text transform="translate(78,64.7) rotate(-90)" text-anchor="middle" textLength="44" lengthAdjust="spacingAndGlyphs">0.90</text>
<text transform="translate(784.2,660.5) rotate(-90)" text-anchor="middle" textLength="30.8" lengthAdjust="spacingAndGlyphs">0.1</text>
<text transform="translate(784.2,585.7) rotate(-90)" text-anchor="middle" textLength="30.8" lengthAdjust="spacingAndGlyphs">0.2</text>
<text transform="translate(784.2,511.0) rotate(-90)" text-anchor="middle" textLength="30.8" lengthAdjust="spacingAndGlyphs">0.3</text>
<text transform="translate(784.2,436.3) rotate(-90)" text-anchor="middle" textLength="30.8" lengthAdjust="spacingAndGlyphs">0.4</text>
<text transform="translate(784.2,361.6) rotate(-90)" text-anchor="middle" textLength="30.8" lengthAdjust="spacingAndGlyphs">0.5</text>
<text transform="translate(784.2,286.8) rotate(-90)" text-anchor="middle" textLength="30.8" lengthAdjust="spacingAndGlyphs">0.6</text>
<text transform="translate(784.2,212.1) rotate(-90)" text-anchor="middle" textLength="30.8" lengthAdjust="spacingAndGlyphs">0.7</text>
<text transform="translate(784.2,137.4) rotate(-90)" text-anchor="middle" textLength="30.8" lengthAdjust="spacingAndGlyphs">0.8</text>
<text transform="translate(784.2,62.6) rotate(-90)" text-anchor="middle" textLength="30.8" lengthAdjust="spacingAndGlyphs">0.9</text>
</g>
<g font-size="31" opacity="0.999" stroke="#fff" stroke-width="0.3">
<text x="211.6" y="808.4" textLength="67.8" lengthAdjust="spacingAndGlyphs">Time</text>
<text x="292.9" y="808.4" textLength="78.5" lengthAdjust="spacingAndGlyphs">before</text>
<text x="382.0" y="808.4" textLength="81.0" lengthAdjust="spacingAndGlyphs">White</text>
<text x="474.5" y="808.4" textLength="81.7" lengthAdjust="spacingAndGlyphs">Dwarf</text>
<text x="565.2" y="808.4" textLength="70.8" lengthAdjust="spacingAndGlyphs">[Myr]</text>
<text transform="translate(38.3,507.5) rotate(-90)" textLength="67.5" lengthAdjust="spacingAndGlyphs">Mass</text>
<text transform="translate(38.3,429.0) rotate(-90)" textLength="75.0" lengthAdjust="spacingAndGlyphs">[Solar</text>
<text transform="translate(38.3,343.6) rotate(-90)" textLength="100.4" lengthAdjust="spacingAndGlyphs">Masses]</text>
<text transform="translate(809.9,449.2) rotate(-90)" textLength="150" lengthAdjust="spacingAndGlyphs">Probability</text>
</g>
</svg></body></html>
